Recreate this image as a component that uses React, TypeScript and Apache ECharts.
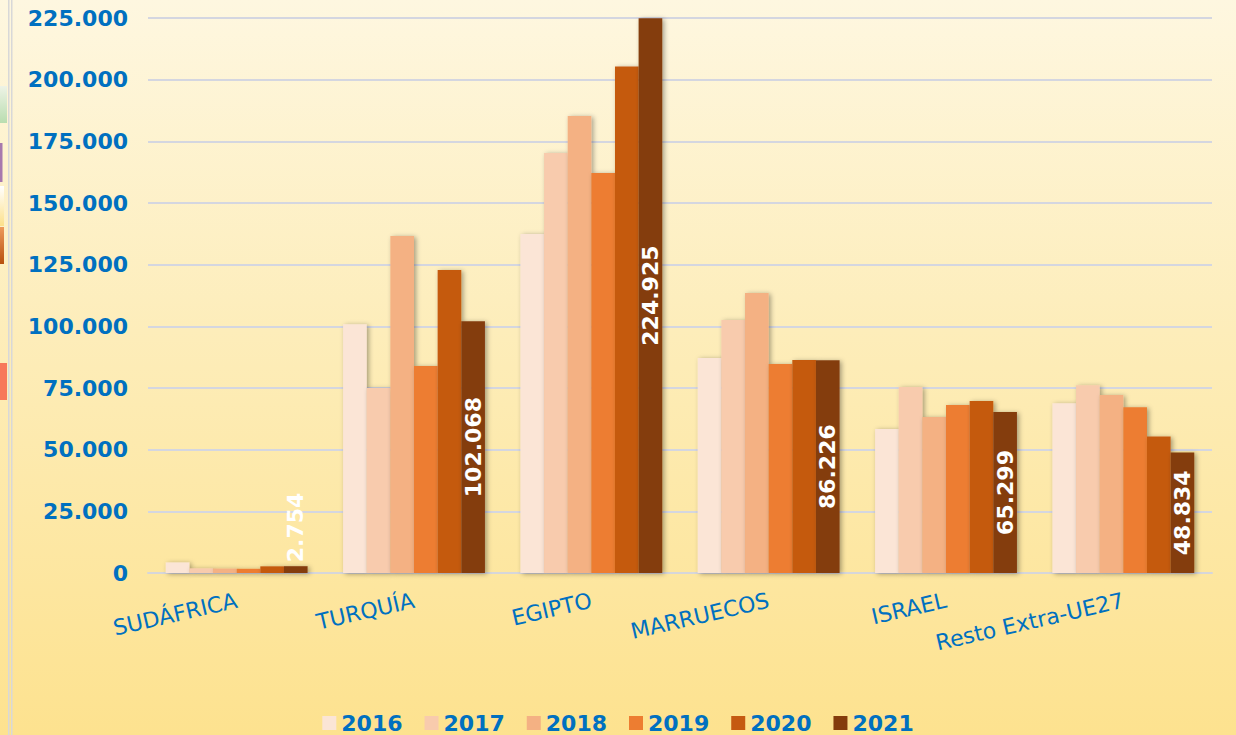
import React, { useEffect, useRef } from "react";
import * as echarts from "echarts";

const categories = ["SUDÁFRICA", "TURQUÍA", "EGIPTO", "MARRUECOS", "ISRAEL", "Resto Extra-UE27"];
const years = ["2016", "2017", "2018", "2019", "2020", "2021"];
const colors = ["#FBE5D6", "#F8CBAD", "#F4B183", "#ED7D31", "#C55A11", "#843C0C"];

const v2016 = [4300, 100800, 137400, 87200, 58400, 68800];
const v2017 = [1900, 75000, 170300, 102600, 75400, 76100];
const v2018 = [1800, 136600, 185300, 113500, 63200, 72200];
const v2019 = [1700, 83900, 162200, 84700, 68100, 67200];
const v2020 = [2700, 122800, 205300, 86400, 69700, 55300];
const v2021 = [2754, 102068, 224925, 86226, 65299, 48834];

const seriesValues = [v2016, v2017, v2018, v2019, v2020, v2021];

const fmt = (n: number) => {
  const s = Math.round(n).toString();
  return s.replace(/\B(?=(\d{3})+(?!\d))/g, ".");
};

const FONT = "DejaVu Sans";
const BLUE = "#0070C0";

export default function App() {
  const ref = useRef<HTMLDivElement>(null);
  useEffect(() => {
    document.body.style.margin = "0";
    if (!ref.current) return;
    const chart = echarts.init(ref.current, null, { renderer: "svg" });
    const series = seriesValues.map((vals, i) => {
      const isLast = i === seriesValues.length - 1;
      return {
        name: years[i],
        type: "bar",
        barGap: "0%",
        barCategoryGap: "20%",
        itemStyle: {
          color: colors[i],
          shadowColor: "rgba(0,0,0,0.35)",
          shadowBlur: 5,
          shadowOffsetX: 2,
          shadowOffsetY: 1,
        },
        label: isLast
          ? {
              show: true,
              position: "inside",
              rotate: 90,
              align: "center",
              verticalAlign: "middle",
              color: "#ffffff",
              fontFamily: FONT,
              fontWeight: "bold",
              fontSize: 22,
              formatter: (p: any) => fmt(p.value),
            }
          : { show: false },
        data: vals.map((v, j) =>
          isLast && j === 0
            ? {
                value: v,
                label: {
                  show: true,
                  position: "top",
                  rotate: 90,
                  align: "left",
                  verticalAlign: "middle",
                  distance: 4,
                  color: "#ffffff",
                  fontFamily: FONT,
                  fontWeight: "bold",
                  fontSize: 22,
                  formatter: (p: any) => fmt(p.value),
                },
              }
            : v
        ),
      };
    });
    chart.setOption({
      animation: false,
      backgroundColor: "transparent",
      grid: { left: 148, right: 24, top: 18, bottom: 162, containLabel: false },
      legend: {
        data: years,
        top: 707,
        left: "center",
        itemWidth: 14,
        itemHeight: 14,
        itemGap: 22,
        icon: "rect",
        textStyle: { color: BLUE, fontFamily: FONT, fontWeight: "bold", fontSize: 22 },
      },
      xAxis: {
        type: "category",
        data: categories,
        axisTick: { show: false },
        axisLine: { show: true, lineStyle: { color: "#D6D6DA", width: 2 } },
        axisLabel: {
          rotate: 13,
          interval: 0,
          margin: 27,
          color: BLUE,
          fontFamily: FONT,
          fontSize: 22,
        },
      },
      yAxis: {
        type: "value",
        min: 0,
        max: 225000,
        interval: 25000,
        axisLine: { show: false },
        axisTick: { show: false },
        splitLine: { lineStyle: { color: "#D4D6E0", width: 2 } },
        axisLabel: {
          margin: 20,
          color: BLUE,
          fontFamily: FONT,
          fontWeight: "bold",
          fontSize: 22,
          formatter: (v: number) => fmt(v),
        },
      },
      graphic: [
        { type: "rect", shape: { x: 8, y: 0, width: 1.5, height: 735 }, style: { fill: "#D8D8D8" } },
        { type: "rect", shape: { x: 11, y: 0, width: 1.5, height: 735 }, style: { fill: "#D8D8D8" } },
        {
          type: "rect",
          shape: { x: 0, y: 86, width: 7, height: 37 },
          style: {
            fill: new echarts.graphic.LinearGradient(0, 0, 0, 1, [
              { offset: 0, color: "#EEF3E6" },
              { offset: 1, color: "#B9DDB0" },
            ]),
          },
        },
        { type: "rect", shape: { x: 0, y: 143, width: 2.5, height: 39 }, style: { fill: "#A779AE" } },
        {
          type: "rect",
          shape: { x: 0, y: 186, width: 4, height: 40 },
          style: {
            fill: new echarts.graphic.LinearGradient(0, 0, 0, 1, [
              { offset: 0, color: "#FFFFFF" },
              { offset: 1, color: "#FCE08A" },
            ]),
          },
        },
        {
          type: "rect",
          shape: { x: 0, y: 227, width: 4, height: 37 },
          style: {
            fill: new echarts.graphic.LinearGradient(0, 0, 0, 1, [
              { offset: 0, color: "#EE9A5A" },
              { offset: 1, color: "#B7500F" },
            ]),
          },
        },
        { type: "rect", shape: { x: 0, y: 363, width: 7, height: 37 }, style: { fill: "#F7785A" } },
      ],
      series,
    });
    return () => chart.dispose();
  }, []);
  return (
    <div
      ref={ref}
      style={{
        width: 1236,
        height: 735,
        background: "linear-gradient(180deg, #FEF7E0 0%, #FDEDBA 45%, #FDE28F 100%)",
      }}
    />
  );
}
